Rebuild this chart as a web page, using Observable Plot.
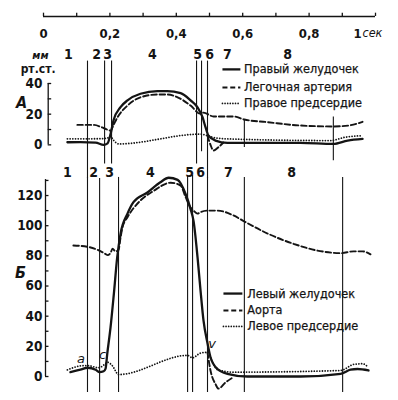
<!DOCTYPE html>
<html><head><meta charset="utf-8">
<script src="https://cdn.jsdelivr.net/npm/d3@7"></script>
<script src="https://cdn.jsdelivr.net/npm/@observablehq/plot@0.6"></script>
<style>
body{margin:0;background:#fff;}
#chart svg{display:block;}
</style>
</head><body><div id="chart"></div>
<script>
// ---------- data (time in s, pressure in mm Hg) ----------
// Panel A (right heart)
const rvT = [0.072,0.111,0.157,0.181,0.193,0.202,0.211,0.232,0.253,0.292,0.343,0.373,0.413,0.443,0.464,0.479,0.488,0.497,0.518,0.554,0.654,0.774,0.873,0.916,0.961];
const rvP = [1.7,1.8,1.5,0,1,7,16,24.6,29,33.3,35,35,33.7,29,24.5,18,11.5,6,2.8,1.3,1.3,1.3,0.6,2.8,3.9];
const paT = [0.102,0.151,0.181,0.202,0.211,0.223,0.253,0.292,0.343,0.373,0.404,0.443,0.473,0.482,0.512,0.572,0.605,0.675,0.774,0.873,0.919,0.961];
const paP = [13,13,11,9.3,13,18,25.6,31,32.8,32.8,31,25.6,20.2,21,18.5,18.5,16.5,14.8,12.6,12,12.6,15];
const raT = [0.072,0.172,0.193,0.202,0.211,0.226,0.473,0.494,0.518,0.554,0.864,0.910,0.961];
const raP = [3.9,4,4.5,5.5,3,0.6,7,6,4.5,3.9,2.8,5,6];
const raDipT = [0.494,0.503,0.512,0.527,0.542];
const raDipP = [6,0,-3.7,-1.5,1.5];
// Panel B (left heart)
const lvT = [0.081,0.111,0.133,0.157,0.169,0.181,0.187,0.192,0.202,0.212,0.222,0.232,0.253,0.271,0.313,0.352,0.377,0.404,0.428,0.443,0.452,0.464,0.473,0.482,0.494,0.503,0.524,0.554,0.614,0.774,0.895,0.925,0.946,0.979];
const lvP = [2.9,4.5,5.8,4.5,2.9,3.5,5.3,15,32.7,55,79,94.6,108,115.6,122,128.8,131.8,130.4,121,111,103,79,57,37,22,12.8,5,1.8,0,0,1.8,4.5,5,4];
const aoT = [0.090,0.133,0.163,0.181,0.193,0.202,0.208,0.217,0.226,0.232,0.238,0.253,0.292,0.331,0.383,0.413,0.428,0.443,0.452,0.464,0.473,0.494,0.524,0.572,0.605,0.675,0.753,0.825,0.895,0.934,0.961,0.985];
const aoP = [86.9,86,84,82,80.5,82,84.7,83,84,92,99,105.6,116.7,123,128.5,126.6,119,112,110,108,109,110,110,106.8,102.8,94.8,88,83.5,81.8,83,83,81];
const laT = [0.072,0.111,0.133,0.166,0.184,0.193,0.208,0.226,0.434,0.449,0.473,0.494,0.512,0.524,0.572,0.895,0.934,0.961,0.976];
const laP = [4.4,7,7.3,5.8,8,9.5,7,1.3,14,12.4,15.5,16,8,4.5,2.9,4,8,8.5,6.6];
const laDipT = [0.494,0.503,0.518,0.527,0.548,0.572];
const laDipP = [16,4,-5,-8,-4,-0.4];
// phase boundaries
const linesAT = [0.1325,0.184,0.205,0.461,0.476,0.494,0.605,0.873];
const linesATop = [54.6,54.6,54.6,54.6,54.6,54.6,16.2,18.2];
const linesABot = [-22,-12.5,-12.5,-12.5,-4.5,-22,-1.7,-10.4];
const linesBT = [0.1325,0.169,0.226,0.434,0.449,0.494,0.605,0.901];
const linesBTop = [132,131.3,132,133.3,133.3,132,132,132];
const linesBBot = [-10.6,-10.6,-10.6,-10.6,-10.6,-10.6,-10.6,-10.6];
const phaseNames = ["1","2","3","4","5","6","7","8"];
const phaseAT = [0.075,0.160,0.193,0.328,0.464,0.500,0.554,0.735];
const phaseBT = [0.072,0.151,0.199,0.322,0.440,0.473,0.557,0.747];
// axes
const timeTicks = [0,0.1,0.2,0.3,0.4,0.5,0.6,0.7,0.8,0.9,1];
const timeLabelVals = [0,0.2,0.4,0.6,0.8];
const timeLabels = ["0","0,2","0,4","0,6","0,8"];
const ticksA = [0,10,20,30,40];
const labelsA = [0,20,40];
const ticksB = [0,10,20,30,40,50,60,70,80,90,100,110,120,130];
const labelsB = [0,20,40,60,80,100,120];
const legendA = ["Правый желудочек","Легочная артерия","Правое предсердие"];
const legendB = ["Левый желудочек","Аорта","Левое предсердие"];

// ---------- layout helpers ----------
const OFF = 153.6, K = 1.017;      // panel A placed above panel B on one y scale
const A = v => OFF + K * v;
const rows = (T, P, f = v => v) => T.map((t, i) => ({t, p: f(P[i])}));
const INK = "#141414";
const FONT = "'Liberation Sans Narrow','DejaVu Sans Condensed','Arial Narrow',sans-serif";

const solid = {x: "t", y: "p", stroke: INK, strokeWidth: 2.3, curve: "monotone-x"};
const dashed = {x: "t", y: "p", stroke: INK, strokeWidth: 1.9, strokeDasharray: "5.5,2.8", curve: "monotone-x"};
const dotted = {x: "t", y: "p", stroke: INK, strokeWidth: 1.8, strokeDasharray: "0.01,2.7", strokeLinecap: "round", curve: "monotone-x"};

const vrows = (T, top, bot, f = v => v) => T.map((t, i) => ({t, y1: f(top[i]), y2: f(bot[i])}));
const TK = 0.0105; // tick length in time units (~3.5px)

const legendRows = (names, x1, x2, xt, ys, f) => names.map((n, i) => ({n, x1, x2, xt, y: f(ys[i]), i}));
const legA = legendRows(legendA, 0.539, 0.593, 0.604, [49.2, 37.4, 27], A);
const legB = legendRows(legendB, 0.542, 0.599, 0.614, [55, 43.8, 33.2], v => v);
const legStyle = [{strokeWidth: 2.3}, {strokeWidth: 1.9, strokeDasharray: "5,2.8"}, {strokeWidth: 1.7, strokeDasharray: "0.01,2.6", strokeLinecap: "round"}];

const legendMarks = (leg) => [
  ...leg.map(d => Plot.link([d], {x1: "x1", x2: "x2", y1: "y", y2: "y", stroke: INK, ...legStyle[d.i]})),
  Plot.text(leg, {x: "xt", y: "y", text: "n", textAnchor: "start", fontSize: 12.5, fill: INK, stroke: INK, strokeWidth: 0.25, style: "letter-spacing:1px"})
];

const chart = Plot.plot({
  width: 398, height: 400,
  marginLeft: 43, marginRight: 23, marginTop: 16, marginBottom: 0,
  x: {domain: [0, 1], axis: null},
  y: {domain: [-15.9, 238.7], axis: null},
  style: {fontFamily: FONT, background: "#fff", color: INK},
  marks: [
    // top time axis
    Plot.ruleY([238.7], {x1: 0, x2: 1, stroke: INK, strokeWidth: 1.6}),
    Plot.ruleX(timeTicks, {x: d => d, y1: 238.7, y2: 238.7 + 2.2, stroke: INK, strokeWidth: 1.3}),
    Plot.text(timeLabelVals, {x: d => d, text: (d, i) => timeLabels[i], frameAnchor: "top", dy: 12, fontSize: 13, fontWeight: "bold", fill: INK}),
    Plot.text([1], {x: d => d, text: () => "1", frameAnchor: "top", dy: 12, dx: -18, fontSize: 13, fontWeight: "bold", fill: INK}),
    Plot.text([1], {x: d => d, text: () => "сек", frameAnchor: "top", dy: 12, dx: -13, textAnchor: "start", fontSize: 12.5, fontStyle: "italic", fill: INK}),
    // y axis A
    Plot.ruleX([0], {y1: A(0), y2: A(40), dx: 4.7, stroke: INK, strokeWidth: 1.3}),
    Plot.ruleY(ticksA, {y: d => A(d), x1: 0, x2: TK, dx: 4.7, stroke: INK, strokeWidth: 1.3}),
    Plot.text(labelsA, {x: 0, y: d => A(d), text: d => String(d), textAnchor: "end", dx: -1, fontSize: 13.5, fontWeight: "bold", fill: INK}),
    Plot.text(["мм"], {x: 0, y: A(58.5), text: d => d, textAnchor: "end", dx: 5, fontSize: 11, fontStyle: "italic", fontWeight: "bold", fill: INK}),
    Plot.text(["рт.ст."], {x: 0, y: A(49.5), text: d => d, textAnchor: "end", dx: 12, fontSize: 12, fontWeight: "bold", fill: INK}),
    Plot.text(["А"], {x: 0, y: A(27.5), text: d => d, textAnchor: "middle", dx: -22, fontSize: 16, fontStyle: "italic", fontWeight: "bold", fill: INK}),
    // y axis B
    Plot.ruleX([0], {y1: 0, y2: 130.6, dx: 2, stroke: INK, strokeWidth: 1.3}),
    Plot.ruleY(ticksB, {y: d => d, x1: 0, x2: TK, dx: 2, stroke: INK, strokeWidth: 1.3}),
    Plot.text(labelsB, {x: 0, y: d => d, text: d => String(d), textAnchor: "end", dx: -1, fontSize: 13.5, fontWeight: "bold", fill: INK}),
    Plot.text(["Б"], {x: 0, y: 68.5, text: d => d, textAnchor: "middle", dx: -23, fontSize: 16, fontStyle: "italic", fontWeight: "bold", fill: INK}),
    // phase boundaries
    Plot.ruleX(vrows(linesAT, linesATop, linesABot, A), {x: "t", y1: "y1", y2: "y2", stroke: INK, strokeWidth: 1.1}),
    Plot.ruleX(vrows(linesBT, linesBTop, linesBBot), {x: "t", y1: "y1", y2: "y2", stroke: INK, strokeWidth: 1.1}),
    Plot.text(phaseNames, {x: (d, i) => phaseAT[i], y: A(59), text: d => d, fontSize: 14, fontWeight: "bold", fill: INK}),
    Plot.text(phaseNames, {x: (d, i) => phaseBT[i], y: 135, text: d => d, fontSize: 14, fontWeight: "bold", fill: INK}),
    // panel A curves
    Plot.line(rows(raT, raP, A), dotted),
    Plot.line(rows(raDipT, raDipP, A), dashed),
    Plot.line(rows(paT, paP, A), dashed),
    Plot.line(rows(rvT, rvP, A), solid),
    // panel B curves
    Plot.line(rows(laT, laP), dotted),
    Plot.line(rows(laDipT, laDipP), dashed),
    Plot.line(rows(aoT, aoP), dashed),
    Plot.line(rows(lvT, lvP), solid),
    // wave letters
    Plot.text(["a", "c", "v"], {x: (d, i) => [0.113, 0.178, 0.508][i], y: (d, i) => [12, 14.5, 21.5][i], text: d => d, fontSize: 13, fontStyle: "italic", fontFamily: "'DejaVu Sans',sans-serif", fill: INK}),
    // legends
    ...legendMarks(legA),
    ...legendMarks(legB)
  ]
});
document.getElementById("chart").appendChild(chart);
</script>
</body></html>
